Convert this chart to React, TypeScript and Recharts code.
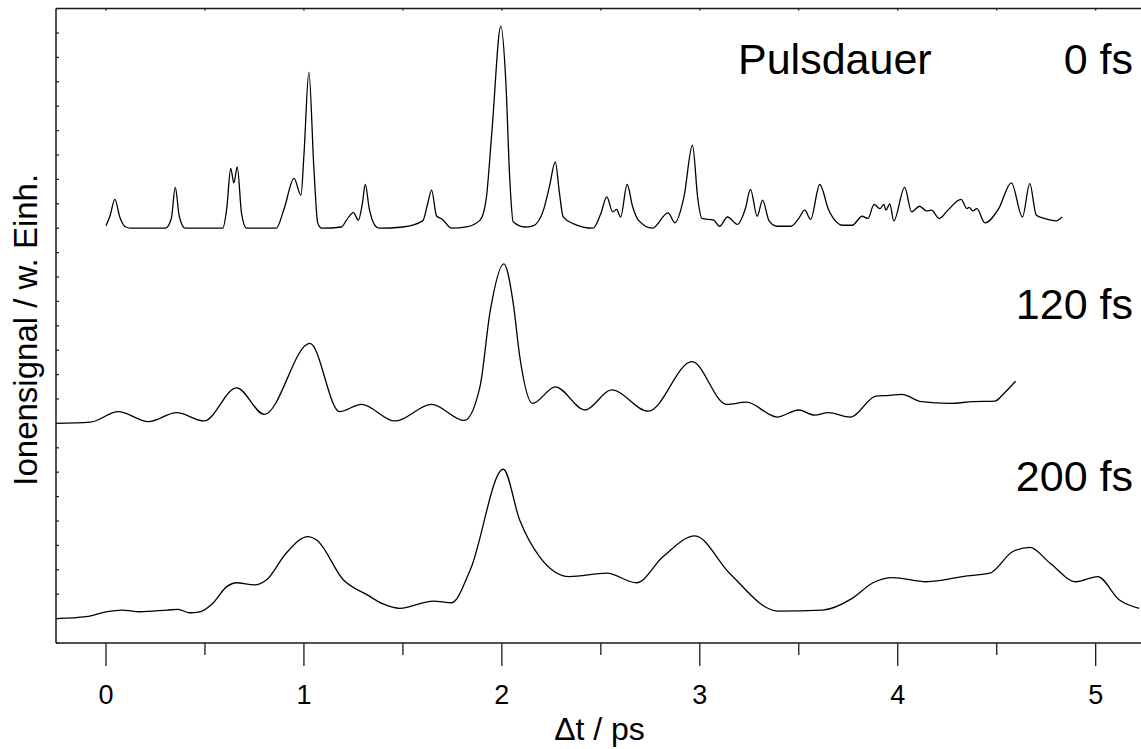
import React from "react"
import { LineChart, Line, XAxis, YAxis, Label } from "recharts"

// Zeitachse (ps) und Ionensignal je Pulsdauer, relativ zur eigenen Grundlinie
const t0 = [
  0.0, 0.02, 0.045, 0.07, 0.1, 0.13, 0.3, 0.33, 0.35, 0.37, 0.4, 0.59, 0.61, 0.63, 0.646, 0.663, 0.685, 0.71,
  0.86, 0.9, 0.95, 0.985, 1.0, 1.025, 1.05, 1.07, 1.09, 1.19, 1.215, 1.25, 1.275, 1.295, 1.31, 1.33, 1.36, 1.38,
  1.5, 1.6, 1.625, 1.645, 1.67, 1.7, 1.745, 1.82, 1.89, 1.92, 1.95, 1.995, 2.02, 2.04, 2.057, 2.116, 2.158, 2.21,
  2.24, 2.27, 2.29, 2.31, 2.36, 2.46, 2.5, 2.53, 2.56, 2.58, 2.6, 2.633, 2.66, 2.69, 2.76, 2.84, 2.874, 2.92,
  2.963, 2.99, 3.01, 3.07, 3.1, 3.14, 3.19, 3.23, 3.256, 3.29, 3.317, 3.35, 3.39, 3.46, 3.5, 3.53, 3.56, 3.606,
  3.65, 3.69, 3.72, 3.77, 3.82, 3.85, 3.88, 3.91, 3.93, 3.94, 3.96, 3.98, 4.035, 4.07, 4.11, 4.145, 4.17, 4.21,
  4.25, 4.32, 4.35, 4.36, 4.38, 4.4, 4.44, 4.51, 4.574, 4.63, 4.667, 4.7, 4.74, 4.8, 4.83,
]
const s0 = [
  0.1, 0.5, 1.18, 0.45, 0.05, 0, 0, 0.4, 1.67, 0.5, 0, 0, 0.8, 2.45, 1.86, 2.51, 0.6, 0,
  0, 0.8, 2.04, 1.35, 3.0, 6.4, 2.5, 0.2, 0, 0.05, 0.33, 0.64, 0.33, 1.0, 1.79, 0.8, 0.1, 0,
  0.05, 0.3, 1.0, 1.56, 0.5, 0.36, 0, 0.05, 0.33, 1.15, 4.0, 8.28, 6.0, 2.0, 0.26, 0.05, 0.1, 0.74,
  1.69, 2.72, 1.5, 0.46, 0.19, 0, 0.6, 1.28, 0.67, 0.77, 0.46, 1.79, 0.9, 0.33, 0, 0.63, 0.22, 1.28,
  3.4, 1.2, 0.4, 0.33, 0.08, 0.46, 0.16, 0.8, 1.59, 0.49, 1.15, 0.3, 0.08, 0.08, 0.4, 0.74, 0.36, 1.79,
  0.77, 0.26, 0.12, 0.12, 0.49, 0.4, 0.98, 0.8, 0.98, 0.74, 1.0, 0.3, 1.67, 0.67, 0.9, 0.71, 0.74, 0.4,
  0.71, 1.18, 0.8, 0.85, 0.71, 0.8, 0.22, 0.8, 1.86, 0.46, 1.83, 0.53, 0.4, 0.3, 0.46,
]

const t120 = [
  -0.253, -0.08, 0.062, 0.214, 0.357, 0.495, 0.66, 0.8, 1.03, 1.18, 1.29, 1.46, 1.645, 1.81, 1.89, 1.94, 2.01,
  2.057, 2.09, 2.155, 2.27, 2.42, 2.554, 2.74, 2.96, 3.135, 3.236, 3.39, 3.5, 3.58, 3.65, 3.76, 3.89, 3.96, 4.02,
  4.12, 4.26, 4.38, 4.49, 4.54, 4.595,
]
const s120 = [
  0, 0.05, 0.48, 0.07, 0.44, 0.1, 1.46, 0.37, 3.28, 0.48, 0.78, 0.1, 0.78, 0.12, 1.53, 4.55, 6.54,
  4.95, 2.76, 0.82, 1.5, 0.55, 1.37, 0.5, 2.53, 0.78, 0.87, 0.26, 0.55, 0.34, 0.44, 0.26, 1.12, 1.15, 1.19,
  0.89, 0.82, 0.89, 0.91, 1.26, 1.73,
]

const t200 = [
  -0.253, -0.1, 0.003, 0.08, 0.17, 0.31, 0.365, 0.42, 0.475, 0.54, 0.61, 0.66, 0.75, 0.81, 0.91, 1.02, 1.064,
  1.2, 1.32, 1.4, 1.485, 1.653, 1.746, 1.84, 2.007, 2.09, 2.19, 2.34, 2.53, 2.68, 2.815, 2.975, 3.15, 3.395,
  3.62, 3.77, 3.875, 3.976, 4.145, 4.35, 4.465, 4.58, 4.667, 4.77, 4.9, 5.01, 5.12, 5.22,
]
const s200 = [
  0, 0.08, 0.28, 0.35, 0.28, 0.35, 0.38, 0.24, 0.28, 0.63, 1.31, 1.47, 1.38, 1.58, 2.68, 3.36, 3.22,
  1.58, 0.97, 0.6, 0.42, 0.72, 0.65, 1.99, 6.12, 4.04, 2.54, 1.72, 1.86, 1.47, 2.54, 3.39, 1.86, 0.31,
  0.35, 0.83, 1.47, 1.68, 1.51, 1.75, 1.86, 2.74, 2.92, 2.27, 1.51, 1.72, 0.76, 0.42,
]

const baselines = [17, 9, 1]
const traceLabels = ["0 fs", "120 fs", "200 fs"]
const xTicks = [0, 0.5, 1, 1.5, 2, 2.5, 3, 3.5, 4, 4.5, 5]
const yTicks = [0, 1, 2, 3, 4, 5, 6, 7, 8, 9, 10, 11, 12, 13, 14, 15, 16, 17, 18, 19, 20, 21, 22, 23, 24, 25, 26]

const ink = "#1a1a1a"
const font = '"Liberation Sans", Arial, Helvetica, sans-serif'

function rows(t: number[], s: number[], base: number) {
  return t.map((x, i) => ({ t: x, v: s[i] + base }))
}

const traces = [rows(t0, s0, baselines[0]), rows(t120, s120, baselines[1]), rows(t200, s200, baselines[2])]

function BottomTick(props: any) {
  const { x, y, payload } = props
  const major = Number.isInteger(payload.value)
  return (
    <g>
      <line x1={x} y1={y} x2={x} y2={y + (major ? 23 : 12)} stroke={ink} strokeWidth={1.3} />
      {major && (
        <text x={x} y={y + 60.5} textAnchor="middle" fontSize={27} fill="#000" fontFamily={font}>
          {payload.value}
        </text>
      )}
    </g>
  )
}

function TopTick(props: any) {
  const { x, y } = props
  return <line x1={x} y1={y} x2={x} y2={y + 2} stroke={ink} strokeWidth={1.3} />
}

function LeftTick(props: any) {
  const { x, y } = props
  return <line x1={x} y1={y} x2={x + 3} y2={y} stroke={ink} strokeWidth={1.2} />
}

export default function App() {
  return (
    <div style={{ position: "absolute", left: 0, top: 0, width: 1141, height: 749, fontFamily: font }}>
      <LineChart width={1141} height={749} margin={{ top: 7.6, right: 0, bottom: 105, left: 55 }}>
        <XAxis
          xAxisId="b"
          type="number"
          dataKey="t"
          domain={[-0.2526, 5.229]}
          allowDataOverflow
          ticks={xTicks}
          interval={0}
          height={1}
          tickSize={0}
          tickMargin={0}
          tick={BottomTick}
          stroke={ink}
          strokeWidth={1.5}
        >
          <Label
            content={(p: any) => {
              const vb = p.viewBox
              return (
                <text x={vb.x + vb.width / 2 + 1} y={vb.y + 97} textAnchor="middle" fontSize={32} fill="#000" fontFamily={font}>
                  Δt / ps
                </text>
              )
            }}
          />
        </XAxis>
        <XAxis
          xAxisId="top"
          orientation="top"
          type="number"
          dataKey="t"
          domain={[-0.2526, 5.229]}
          allowDataOverflow
          ticks={xTicks}
          interval={0}
          height={1}
          tickSize={0}
          tickMargin={0}
          tick={TopTick}
          stroke={ink}
          strokeWidth={1.5}
        />
        <YAxis
          type="number"
          domain={[0, 26]}
          allowDataOverflow
          ticks={yTicks}
          interval={0}
          width={1}
          tickSize={0}
          tickMargin={0}
          tick={LeftTick}
          stroke={ink}
          strokeWidth={1.5}
        >
          <Label
            content={(p: any) => {
              const vb = p.viewBox
              const cx = vb.x + vb.width - 18.5
              const cy = vb.y + vb.height / 2 + 4
              return (
                <text x={cx} y={cy} transform={`rotate(-90, ${cx}, ${cy})`} textAnchor="middle" fontSize={33} fill="#000" fontFamily={font}>
                  Ionensignal / w. Einh.
                </text>
              )
            }}
          />
        </YAxis>
        {traces.map((d, i) => (
          <Line
            key={traceLabels[i]}
            xAxisId="b"
            data={d}
            dataKey="v"
            type="monotone"
            stroke="#000"
            strokeWidth={1.3}
            dot={false}
            isAnimationActive={false}
          />
        ))}
      </LineChart>
      <svg width={1141} height={749} style={{ position: "absolute", left: 0, top: 0, pointerEvents: "none" }}>
        <text x={738} y={74} fontSize={43} fill="#000" fontFamily={font}>Pulsdauer</text>
        <text x={1133} y={74} fontSize={43} textAnchor="end" fill="#000" fontFamily={font}>{traceLabels[0]}</text>
        <text x={1133} y={319} fontSize={43} textAnchor="end" fill="#000" fontFamily={font}>{traceLabels[1]}</text>
        <text x={1133} y={491} fontSize={43} textAnchor="end" fill="#000" fontFamily={font}>{traceLabels[2]}</text>
      </svg>
    </div>
  )
}
